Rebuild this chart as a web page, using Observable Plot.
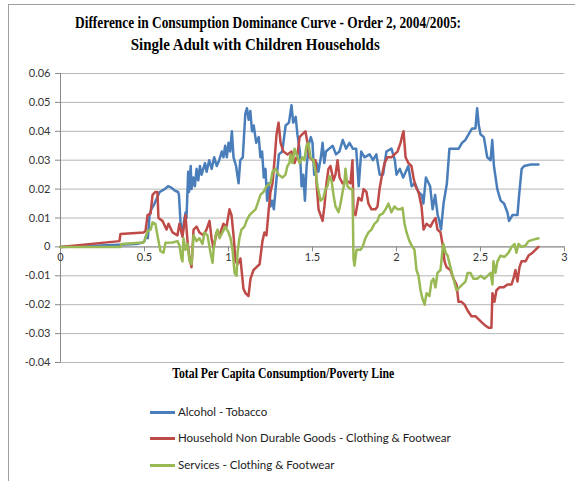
<!DOCTYPE html>
<html><head><meta charset="utf-8">
<script src="https://cdn.jsdelivr.net/npm/d3@7"></script>
<script src="https://cdn.jsdelivr.net/npm/@observablehq/plot@0.6"></script>
<style>
html,body{margin:0;padding:0;background:#fff;}
#wrap{position:relative;width:575px;height:481px;overflow:hidden;background:#fff;font-family:Lato,"Open Sans",sans-serif;}
#frame{position:absolute;left:8px;top:4px;width:620px;height:520px;border-left:1px solid #a0a0a0;border-top:1px solid #a0a0a0;}
.serif{position:absolute;font-family:"Liberation Serif","Times New Roman",serif;font-weight:bold;white-space:nowrap;color:#000;line-height:1;}
#chart{position:absolute;left:0;top:60px;}
.leg{position:absolute;left:150px;height:14px;font-size:11.5px;color:#222;white-space:nowrap;display:flex;align-items:center;line-height:1;}
.leg i{display:inline-block;width:25px;height:3px;margin-right:3px;}
</style></head>
<body>
<div id="wrap">
  <div id="frame"></div>
  <div class="serif" id="t1" style="font-size:16px;">Difference in Consumption Dominance Curve - Order  2, 2004/2005:</div>
  <div class="serif" id="t2" style="font-size:16px;">Single Adult with Children Households</div>
  <div id="chart"></div>
  <div class="serif" id="xl" style="font-size:14px;">Total Per Capita Consumption/Poverty Line</div>
  <div id="legend"></div>
</div>
<script>
const seriesNames = ["Alcohol - Tobacco", "Household Non Durable Goods - Clothing & Footwear", "Services - Clothing & Footwear"];
const seriesColors = ["#4a7ebb", "#be4b48", "#98b954"];
const xTicks = [0, 0.5, 1, 1.5, 2, 2.5, 3];
const yTicks = [-0.04, -0.03, -0.02, -0.01, 0, 0.01, 0.02, 0.03, 0.04, 0.05, 0.06];

const alcoholTobacco = [[0,0],[0.2,0.0004],[0.38,0.0008],[0.45,0.001],[0.49,0.0015],[0.5,0.002],[0.51,0.004],[0.52,0.003],[0.53,0.011],[0.54,0.013],[0.56,0.015],[0.575,0.017],[0.59,0.019],[0.62,0.02],[0.64,0.021],[0.66,0.0205],[0.68,0.0195],[0.7,0.019],[0.705,0.018],[0.715,0.008],[0.725,0.004],[0.735,0.009],[0.745,0.012],[0.75,0.01],[0.76,0.026],[0.765,0.019],[0.775,0.028],[0.78,0.02],[0.79,0.024],[0.8,0.021],[0.81,0.027],[0.82,0.023],[0.83,0.028],[0.84,0.025],[0.86,0.029],[0.87,0.026],[0.885,0.03],[0.9,0.027],[0.915,0.031],[0.93,0.028],[0.945,0.03],[0.96,0.033],[0.97,0.031],[0.98,0.035],[0.99,0.031],[1.0,0.036],[1.01,0.033],[1.02,0.04],[1.03,0.031],[1.045,0.028],[1.06,0.022],[1.07,0.03],[1.085,0.031],[1.1,0.046],[1.11,0.048],[1.12,0.044],[1.13,0.047],[1.14,0.04],[1.15,0.042],[1.165,0.036],[1.18,0.038],[1.19,0.031],[1.2,0.033],[1.21,0.024],[1.22,0.027],[1.23,0.016],[1.24,0.022],[1.25,0.014],[1.26,0.016],[1.27,0.013],[1.285,0.023],[1.3,0.032],[1.32,0.033],[1.34,0.042],[1.36,0.043],[1.375,0.049],[1.385,0.043],[1.4,0.045],[1.41,0.039],[1.425,0.033],[1.435,0.021],[1.445,0.025],[1.455,0.016],[1.465,0.028],[1.48,0.036],[1.49,0.038],[1.5,0.036],[1.51,0.025],[1.525,0.029],[1.535,0.026],[1.55,0.031],[1.56,0.036],[1.57,0.029],[1.58,0.033],[1.6,0.034],[1.62,0.035],[1.64,0.032],[1.66,0.033],[1.68,0.037],[1.7,0.034],[1.72,0.036],[1.74,0.034],[1.76,0.034],[1.775,0.021],[1.79,0.033],[1.81,0.031],[1.84,0.032],[1.86,0.03],[1.88,0.032],[1.9,0.025],[1.92,0.025],[1.94,0.033],[1.97,0.034],[1.99,0.03],[2.0,0.025],[2.02,0.027],[2.04,0.024],[2.07,0.028],[2.09,0.021],[2.11,0.022],[2.13,0.019],[2.15,0.018],[2.16,0.015],[2.175,0.024],[2.2,0.021],[2.215,0.013],[2.23,0.018],[2.245,0.011],[2.255,0.009],[2.265,0.006],[2.28,0.015],[2.3,0.022],[2.315,0.034],[2.34,0.034],[2.37,0.034],[2.39,0.036],[2.41,0.037],[2.43,0.039],[2.45,0.041],[2.47,0.041],[2.48,0.048],[2.49,0.042],[2.5,0.039],[2.52,0.038],[2.54,0.031],[2.56,0.03],[2.57,0.037],[2.58,0.028],[2.6,0.02],[2.62,0.016],[2.64,0.015],[2.66,0.012],[2.67,0.009],[2.69,0.011],[2.72,0.011],[2.73,0.018],[2.745,0.027],[2.76,0.028],[2.8,0.0285],[2.845,0.0285]];

const householdClothing = [[0,0],[0.351,0.002],[0.357,0.0045],[0.494,0.005],[0.506,0.0055],[0.518,0.011],[0.536,0.0115],[0.548,0.018],[0.565,0.019],[0.577,0.019],[0.583,0.01],[0.607,0.009],[0.631,0.006],[0.643,0.008],[0.667,0.005],[0.696,0.004],[0.708,0.008],[0.726,0.0035],[0.744,0.011],[0.756,0.002],[0.768,-0.004],[0.78,-0.007],[0.792,0.006],[0.81,0.007],[0.827,0.005],[0.851,0.004],[0.869,0.006],[0.887,0.009],[0.899,0.003],[0.911,-0.0005],[0.929,0.005],[0.946,0.004],[0.97,0.008],[0.988,0.007],[1.006,0.013],[1.018,0.011],[1.03,0.004],[1.042,-0.005],[1.054,-0.006],[1.071,-0.004],[1.083,-0.011],[1.089,-0.0145],[1.101,-0.016],[1.119,-0.017],[1.131,-0.011],[1.149,-0.008],[1.167,-0.007],[1.185,-0.006],[1.202,0.002],[1.214,0.005],[1.226,0.004],[1.238,0.012],[1.25,0.019],[1.262,0.022],[1.274,0.03],[1.286,0.039],[1.298,0.043],[1.31,0.036],[1.327,0.033],[1.351,0.032],[1.375,0.033],[1.393,0.029],[1.411,0.032],[1.423,0.038],[1.44,0.039],[1.458,0.04],[1.47,0.036],[1.482,0.031],[1.5,0.03],[1.518,0.03],[1.524,0.022],[1.536,0.013],[1.548,0.011],[1.56,0.009],[1.571,0.014],[1.583,0.022],[1.595,0.027],[1.607,0.028],[1.625,0.023],[1.637,0.025],[1.649,0.03],[1.661,0.024],[1.679,0.022],[1.702,0.023],[1.726,0.022],[1.738,0.03],[1.744,0.012],[1.756,0.011],[1.774,0.017],[1.792,0.016],[1.804,0.02],[1.821,0.019],[1.833,0.015],[1.851,0.013],[1.875,0.013],[1.887,0.014],[1.899,0.02],[1.911,0.024],[1.929,0.029],[1.946,0.031],[1.97,0.031],[1.988,0.032],[2.006,0.033],[2.024,0.036],[2.036,0.039],[2.042,0.04],[2.054,0.031],[2.071,0.029],[2.089,0.028],[2.101,0.024],[2.113,0.021],[2.131,0.019],[2.149,0.014],[2.161,0.006],[2.179,0.008],[2.202,0.007],[2.22,0.009],[2.232,0.01],[2.244,0.006],[2.262,0.005],[2.274,0.001],[2.286,-0.005],[2.298,-0.007],[2.321,-0.008],[2.339,-0.011],[2.357,-0.013],[2.369,-0.019],[2.387,-0.019],[2.405,-0.02],[2.423,-0.022],[2.446,-0.024],[2.47,-0.024],[2.488,-0.025],[2.506,-0.026],[2.524,-0.027],[2.548,-0.028],[2.565,-0.028],[2.571,-0.016],[2.583,-0.019],[2.595,-0.015],[2.613,-0.014],[2.637,-0.014],[2.661,-0.013],[2.685,-0.013],[2.696,-0.011],[2.708,-0.008],[2.72,-0.012],[2.732,-0.007],[2.744,-0.005],[2.768,-0.005],[2.786,-0.003],[2.81,-0.002],[2.827,-0.001],[2.845,0]];

const servicesClothing = [[0,0],[0.357,0],[0.363,0.001],[0.494,0.0015],[0.506,0.003],[0.518,0.0055],[0.536,0.006],[0.548,0.0085],[0.565,0.008],[0.577,0.004],[0.595,-0.0015],[0.613,-0.002],[0.625,0.0014],[0.667,0.0015],[0.696,0.002],[0.708,0.0005],[0.72,-0.004],[0.726,-0.005],[0.732,0.003],[0.744,-0.001],[0.756,0.001],[0.768,-0.005],[0.78,-0.006],[0.792,0.004],[0.81,0.002],[0.827,0.003],[0.845,0.001],[0.857,0.005],[0.875,0.004],[0.893,-0.002],[0.905,-0.0055],[0.911,-0.001],[0.923,0.004],[0.935,0.006],[0.946,0.003],[0.964,0.005],[0.982,0.007],[1.0,0.005],[1.012,0.003],[1.024,-0.001],[1.036,-0.009],[1.048,-0.01],[1.054,-0.002],[1.065,0.003],[1.077,0.006],[1.095,0.007],[1.107,0.009],[1.125,0.011],[1.143,0.012],[1.161,0.013],[1.173,0.015],[1.19,0.018],[1.208,0.019],[1.226,0.021],[1.25,0.022],[1.262,0.026],[1.28,0.027],[1.298,0.025],[1.321,0.024],[1.339,0.025],[1.351,0.028],[1.363,0.029],[1.369,0.032],[1.381,0.029],[1.393,0.034],[1.411,0.031],[1.423,0.029],[1.44,0.031],[1.452,0.03],[1.464,0.035],[1.476,0.036],[1.488,0.031],[1.506,0.03],[1.518,0.026],[1.53,0.021],[1.548,0.016],[1.565,0.017],[1.577,0.02],[1.589,0.021],[1.601,0.0245],[1.613,0.023],[1.625,0.018],[1.637,0.014],[1.655,0.012],[1.667,0.015],[1.679,0.019],[1.69,0.022],[1.696,0.027],[1.708,0.021],[1.726,0.02],[1.738,0.02],[1.744,-0.004],[1.75,-0.0065],[1.762,-0.001],[1.786,-0.001],[1.798,0],[1.815,0.003],[1.833,0.005],[1.851,0.006],[1.869,0.008],[1.887,0.009],[1.899,0.011],[1.917,0.0115],[1.935,0.013],[1.952,0.015],[1.97,0.012],[1.988,0.014],[2.006,0.013],[2.024,0.013],[2.036,0.0135],[2.048,0.008],[2.06,0.005],[2.077,0.002],[2.095,0],[2.107,-0.001],[2.119,-0.008],[2.131,-0.01],[2.143,-0.015],[2.155,-0.018],[2.167,-0.02],[2.179,-0.016],[2.196,-0.017],[2.208,-0.012],[2.22,-0.011],[2.232,-0.014],[2.244,-0.009],[2.262,-0.008],[2.274,-0.001],[2.28,0.001],[2.292,-0.002],[2.304,-0.003],[2.321,-0.007],[2.339,-0.011],[2.357,-0.015],[2.375,-0.014],[2.393,-0.013],[2.411,-0.012],[2.423,-0.009],[2.44,-0.009],[2.458,-0.011],[2.482,-0.011],[2.5,-0.01],[2.524,-0.011],[2.542,-0.01],[2.56,-0.009],[2.571,-0.013],[2.577,-0.005],[2.589,-0.009],[2.601,-0.005],[2.619,-0.003],[2.643,-0.0035],[2.667,-0.002],[2.685,0],[2.702,0.001],[2.714,-0.002],[2.726,0.001],[2.744,0],[2.768,0.0005],[2.786,0.002],[2.815,0.0025],[2.845,0.003]];

const seriesData = [alcoholTobacco, householdClothing, servicesClothing];
const table = seriesData.flatMap((arr, i) => arr.map(([x, y]) => ({series: seriesNames[i], x, y})));

const fmtY = d => Math.abs(d) < 1e-9 ? "0" : d3.format(".2f")(d).replace("−", "-");
const fmtX = d => String(d);

const axisColor = "#8a8a8a";
const chart = Plot.plot({
  width: 575,
  height: 310,
  marginLeft: 60,
  marginRight: 11,
  marginTop: 13,
  marginBottom: 8,
  x: {domain: [0, 3], axis: null},
  y: {domain: [-0.04, 0.06]},
  color: {domain: seriesNames, range: seriesColors},
  style: {fontFamily: "Lato, 'Open Sans', sans-serif", fontSize: "11px", color: "#333", background: "transparent", overflow: "visible"},
  marks: [
    Plot.gridY(yTicks, {stroke: "#b5b5b5", strokeOpacity: 1}),
    Plot.ruleY([0], {stroke: axisColor}),
    Plot.ruleX([0], {stroke: axisColor}),
    Plot.axisY(yTicks, {tickSize: 5, tickPadding: 5, tickFormat: fmtY, stroke: axisColor, fill: "#333", fontSize: 11, label: null}),
    Plot.ruleX(xTicks, {x: d => d, y1: () => 0, y2: () => 0, insetBottom: -5, stroke: axisColor}),
    Plot.text(xTicks, {x: d => d, y: () => 0, text: fmtX, dy: 11, fontSize: 11, fill: "#333"}),
    Plot.line(table, {x: "x", y: "y", z: "series", stroke: "series", strokeWidth: 2.5, strokeLinejoin: "round", curve: "linear"})
  ]
});
document.getElementById("chart").appendChild(chart);

// legend
const legend = document.getElementById("legend");
const legendRows = [412, 438, 465];
seriesNames.forEach((name, i) => {
  const row = document.createElement("div");
  row.className = "leg";
  row.style.top = (legendRows[i] - 7) + "px";
  const sw = document.createElement("i");
  sw.style.background = seriesColors[i];
  row.appendChild(sw);
  row.appendChild(document.createTextNode(name));
  legend.appendChild(row);
});

// fit serif titles to the reference widths
function place(id, cx, cy, w) {
  const el = document.getElementById(id);
  const r = el.getBoundingClientRect();
  const s = w / r.width;
  el.style.left = (cx - r.width / 2) + "px";
  el.style.top = (cy - r.height / 2) + "px";
  el.style.transformOrigin = "50% 50%";
  el.style.transform = `scaleX(${s})`;
}
place("t1", 268, 23, 386);
place("t2", 255, 45, 249);
place("xl", 283, 374, 222);
</script>
</body></html>
